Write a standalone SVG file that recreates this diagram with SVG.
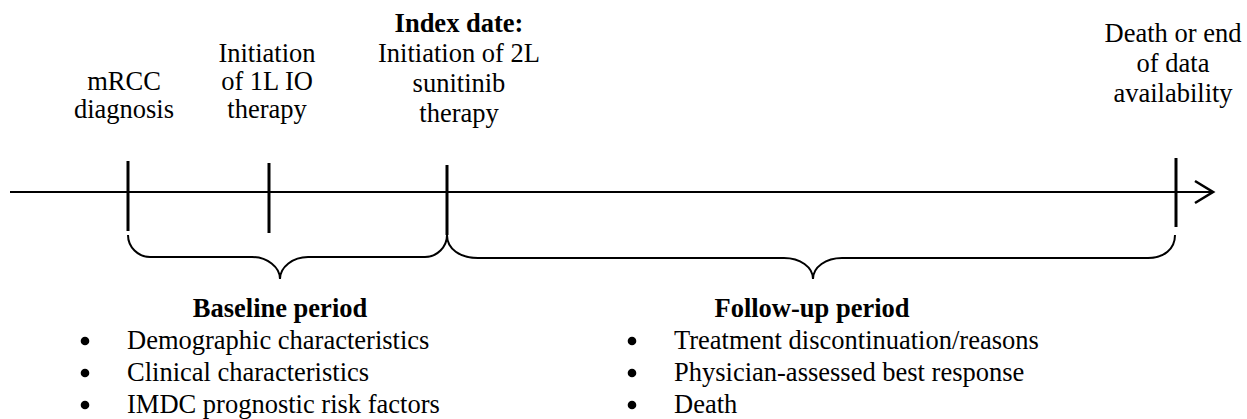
<svg xmlns="http://www.w3.org/2000/svg" width="1247" height="419" viewBox="0 0 1247 419">
  <style>
    text { font-family: "Liberation Serif", "Times New Roman", serif; font-size: 26.5px; fill: #000; }
    .c { text-anchor: middle; }
    .b { font-weight: bold; }
    .dot { fill: #000; }
    .tick { stroke: #000; stroke-width: 3; fill: none; }
    .axis { stroke: #000; stroke-width: 2.2; fill: none; }
    .brace { stroke: #000; stroke-width: 2; fill: none; }
  </style>
  <defs>
    <marker id="chev" markerUnits="userSpaceOnUse" markerWidth="24" markerHeight="26" refX="20" refY="12" orient="auto" viewBox="0 0 24 24">
      <path d="M2,1 L20,12 L2,23" fill="none" stroke="#000" stroke-width="2.6"/>
    </marker>
  </defs>
  <rect width="1247" height="419" fill="#fff"/>

  <g id="connectors">
    <line id="timeline" class="axis" x1="10" y1="192" x2="1213" y2="192" marker-end="url(#chev)"/>
  </g>

  <g id="event-mrcc">
    <line class="tick" x1="128" y1="161" x2="128" y2="231"/>
    <text class="c" x="124" y="90">mRCC</text>
    <text class="c" x="124" y="118">diagnosis</text>
  </g>

  <g id="event-1l">
    <line class="tick" x1="269" y1="163" x2="269" y2="233"/>
    <text class="c" x="267" y="62">Initiation</text>
    <text class="c" x="267" y="90">of 1L IO</text>
    <text class="c" x="267" y="118">therapy</text>
  </g>

  <g id="event-index">
    <line class="tick" x1="447" y1="165" x2="447" y2="235"/>
    <text class="c b" x="459" y="32">Index date:</text>
    <text class="c" x="459" y="62">Initiation of 2L</text>
    <text class="c" x="459" y="92">sunitinib</text>
    <text class="c" x="459" y="122">therapy</text>
  </g>

  <g id="event-end">
    <line class="tick" x1="1176" y1="158" x2="1176" y2="227"/>
    <text class="c" x="1173" y="42">Death or end</text>
    <text class="c" x="1173" y="72">of data</text>
    <text class="c" x="1173" y="102">availability</text>
  </g>

  <g id="baseline-period">
    <path class="brace" d="M128,235 C128,247 138,257 150,257 L252,257 C267,257 280,267 280,279 C280,267 293,257 308,257 L425,257 C437,257 447,247 447,235"/>
    <text class="c b" x="280" y="317">Baseline period</text>
    <circle class="dot" cx="85" cy="341" r="4.3"/>
    <text x="127" y="349">Demographic characteristics</text>
    <circle class="dot" cx="85" cy="373" r="4.3"/>
    <text x="127" y="381">Clinical characteristics</text>
    <circle class="dot" cx="85" cy="405" r="4.3"/>
    <text x="127" y="413">IMDC prognostic risk factors</text>
  </g>

  <g id="followup-period">
    <path class="brace" d="M447,235 C447,249 460,258 478,258 L784,258 C800,258 813,267 813,279 C813,267 826,258 842,258 L1148,258 C1164,258 1175,249 1175,235"/>
    <text class="c b" x="812" y="317">Follow-up period</text>
    <circle class="dot" cx="632" cy="341" r="4.3"/>
    <text x="674" y="349">Treatment discontinuation/reasons</text>
    <circle class="dot" cx="632" cy="373" r="4.3"/>
    <text x="674" y="381">Physician-assessed best response</text>
    <circle class="dot" cx="632" cy="405" r="4.3"/>
    <text x="674" y="413">Death</text>
  </g>
</svg>
